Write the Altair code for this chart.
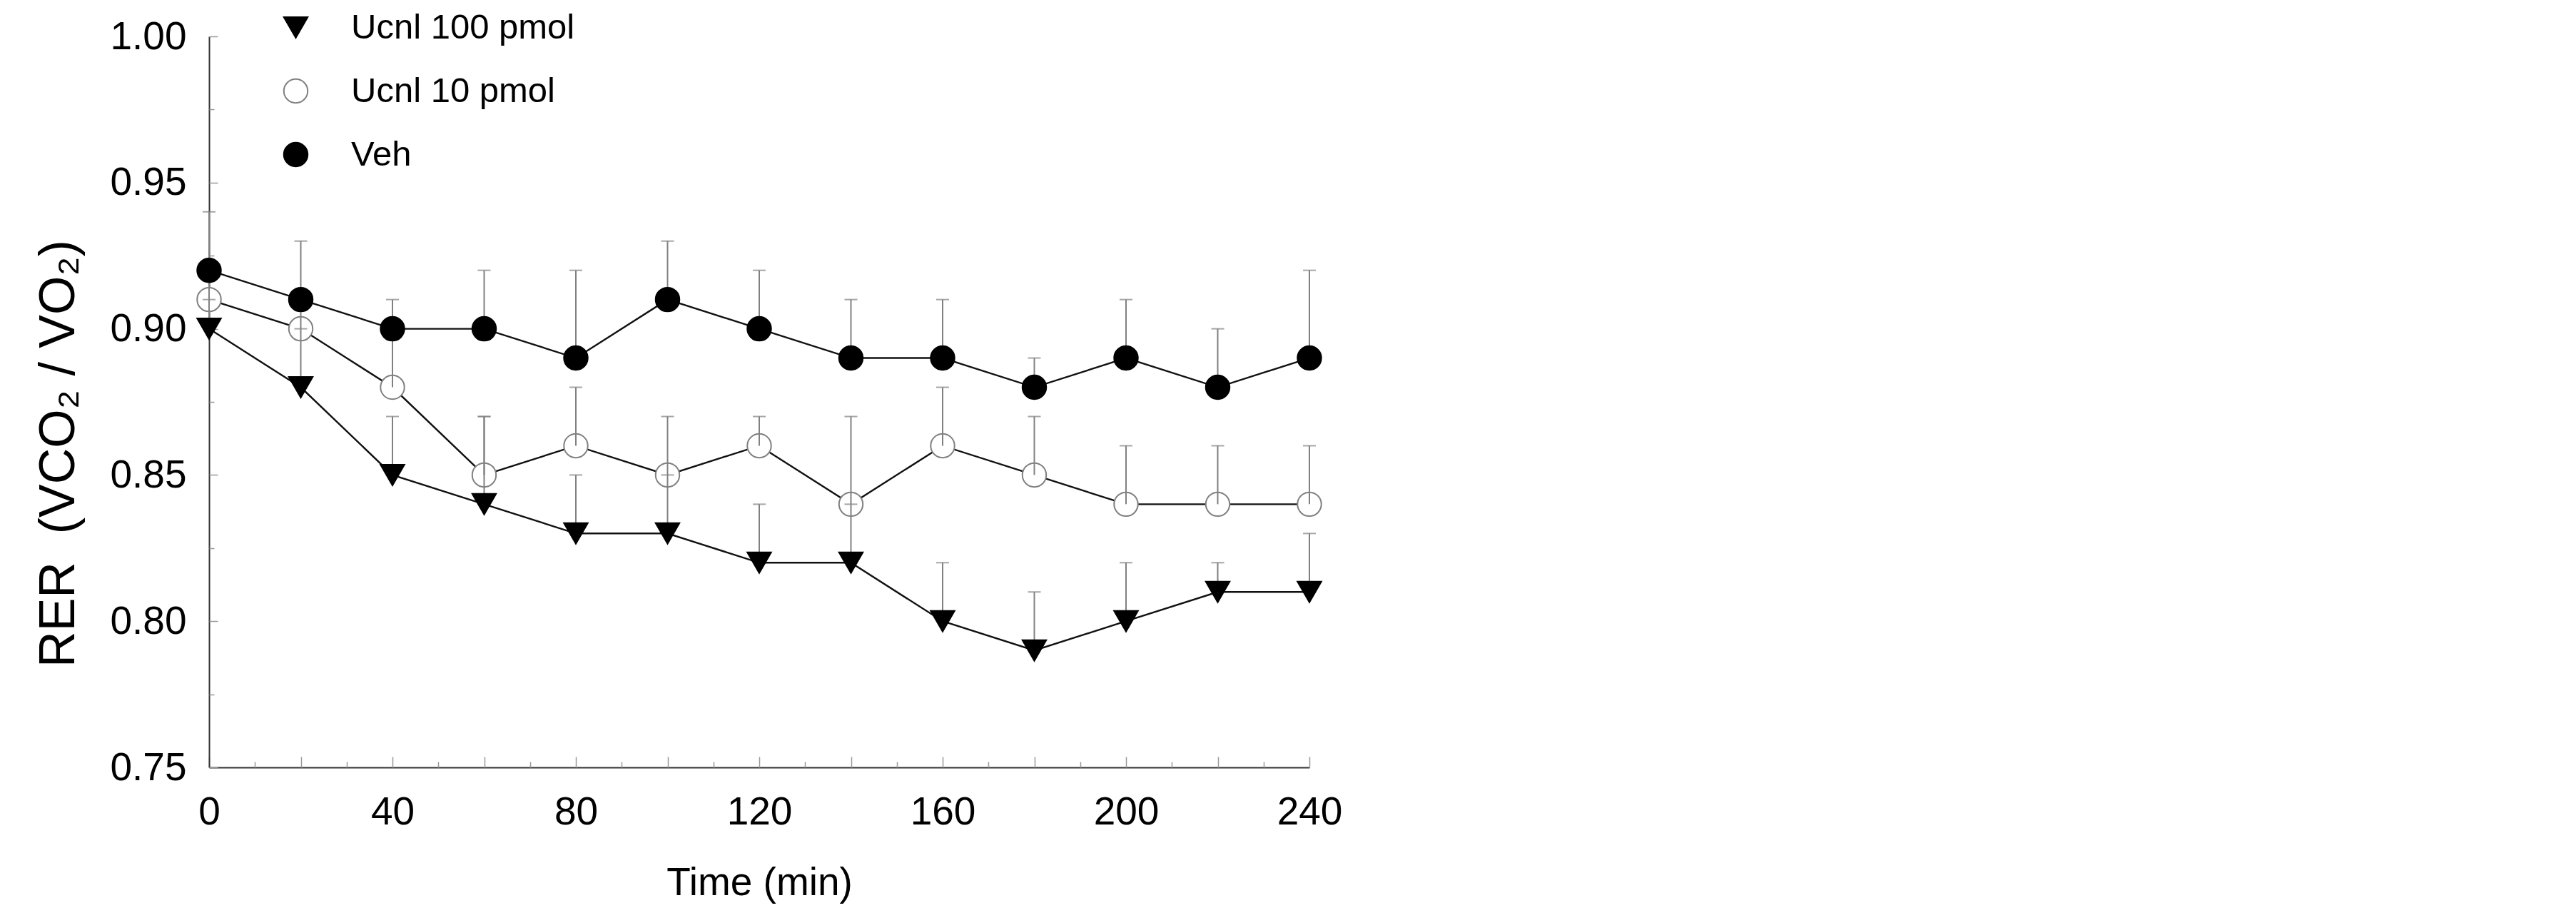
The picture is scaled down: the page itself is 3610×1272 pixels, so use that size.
import altair as alt
import pandas as pd

# ---- data ----
times = [0, 20, 40, 60, 80, 100, 120, 140, 160, 180, 200, 220, 240]
series_names = ["Ucnl 100 pmol", "Ucnl 10 pmol", "Veh"]

ucn100 = [0.90, 0.88, 0.85, 0.84, 0.83, 0.83, 0.82, 0.82, 0.80, 0.79, 0.80, 0.81, 0.81]
ucn100_up = [0.91, 0.90, 0.87, 0.87, 0.85, 0.85, 0.84, 0.84, 0.82, 0.81, 0.82, 0.82, 0.83]

ucn10 = [0.91, 0.90, 0.88, 0.85, 0.86, 0.85, 0.86, 0.84, 0.86, 0.85, 0.84, 0.84, 0.84]
ucn10_up = [0.92, 0.91, 0.90, 0.87, 0.88, 0.87, 0.87, 0.87, 0.88, 0.87, 0.86, 0.86, 0.86]

veh = [0.92, 0.91, 0.90, 0.90, 0.89, 0.91, 0.90, 0.89, 0.89, 0.88, 0.89, 0.88, 0.89]
veh_up = [0.94, 0.93, 0.91, 0.92, 0.92, 0.93, 0.92, 0.91, 0.91, 0.89, 0.91, 0.90, 0.92]

x_label_values = [0, 40, 80, 120, 160, 200, 240]
x_major_ticks = [0, 20, 40, 60, 80, 100, 120, 140, 160, 180, 200, 220, 240]
x_minor_ticks = [10, 30, 50, 70, 90, 110, 130, 150, 170, 190, 210, 230]
y_label_values = [0.75, 0.80, 0.85, 0.90, 0.95, 1.00]
y_minor_ticks = [0.775, 0.825, 0.875, 0.925, 0.975]

rows = []
for name, vals, ups in [("Ucnl 100 pmol", ucn100, ucn100_up),
                        ("Ucnl 10 pmol", ucn10, ucn10_up),
                        ("Veh", veh, veh_up)]:
    for t, v, u in zip(times, vals, ups):
        rows.append({"time": t, "series": name, "value": v, "upper": u})
df = pd.DataFrame(rows)

W, H = 1542, 1024
FONT = "Liberation Sans"
MSIZE = 1120

xs = alt.Scale(domain=[0, 240], nice=False, zero=False)
ys = alt.Scale(domain=[0.75, 1.00], nice=False, zero=False)

ax_x_main = alt.Axis(orient="bottom", values=x_label_values, ticks=False, grid=False,
                     domain=True, domainColor="#333333", domainWidth=2,
                     labelFont=FONT, labelFontSize=55, labelColor="black",
                     labelPadding=36, labelFlush=False, labelOverlap=False,
                     title="Time (min)", titleFont=FONT, titleFontSize=55,
                     titleFontWeight="normal", titleColor="black",
                     titleY=161, titleBaseline="middle")
ax_x_major = alt.Axis(orient="top", offset=-H, values=x_major_ticks, labels=False,
                      domain=False, grid=False, ticks=True, tickSize=15,
                      tickColor="#999999", tickWidth=1.5, title=None)
ax_x_minor = alt.Axis(orient="top", offset=-H, values=x_minor_ticks, labels=False,
                      domain=False, grid=False, ticks=True, tickSize=8,
                      tickColor="#999999", tickWidth=1.5, title=None)

ax_y_main = alt.Axis(orient="left", values=y_label_values, format=".2f", ticks=False,
                     grid=False, domain=True, domainColor="#333333", domainWidth=2,
                     labelFont=FONT, labelFontSize=55, labelColor="black",
                     labelPadding=32, labelOverlap=False,
                     title="RER\u00a0\u00a0(VCO₂ / VO₂)", titleFont=FONT, titleFontSize=70,
                     titleFontWeight="normal", titleColor="black",
                     titleX=-211, titleY=584, titleAlign="center",
                     titleBaseline="middle", titleAngle=270)
ax_y_major = alt.Axis(orient="right", offset=-W, values=y_label_values, labels=False,
                      domain=False, grid=False, ticks=True, tickSize=12,
                      tickColor="#999999", tickWidth=1.5, title=None)
ax_y_minor = alt.Axis(orient="right", offset=-W, values=y_minor_ticks, labels=False,
                      domain=False, grid=False, ticks=True, tickSize=7,
                      tickColor="#999999", tickWidth=1.5, title=None)

legend = alt.Legend(orient="none", legendX=97, legendY=-37, title=None,
                    labelFont=FONT, labelFontSize=49, labelColor="black",
                    symbolSize=MSIZE, symbolStrokeWidth=2, rowPadding=39,
                    labelOffset=53, padding=0, labelLimit=0)

shape_enc = alt.Shape("series:N", scale=alt.Scale(domain=series_names,
                      range=["triangle-down", "circle", "circle"]), legend=legend)
fill_enc = alt.Fill("series:N", scale=alt.Scale(domain=series_names,
                    range=["black", "white", "black"]), legend=legend)
stroke_enc = alt.Stroke("series:N", scale=alt.Scale(domain=series_names,
                        range=["black", "#808080", "black"]), legend=legend)

base = alt.Chart(df)

lines = base.mark_line(color="#111111", strokeWidth=2.4).encode(
    x=alt.X("time:Q", scale=xs, axis=ax_x_main),
    y=alt.Y("value:Q", scale=ys, axis=ax_y_main),
    detail="series:N",
)

open_pts = base.transform_filter(alt.datum.series == "Ucnl 10 pmol").mark_point(
    filled=True, size=MSIZE, strokeWidth=2, opacity=1).encode(
    x=alt.X("time:Q", scale=xs, axis=None),
    y=alt.Y("value:Q", scale=ys, axis=None),
    shape=shape_enc, fill=fill_enc, stroke=stroke_enc,
)

err_rules = base.mark_rule(color="#808080", strokeWidth=2).encode(
    x=alt.X("time:Q", scale=xs, axis=ax_x_major),
    y=alt.Y("value:Q", scale=ys, axis=ax_y_major),
    y2="upper:Q",
)

err_caps = base.mark_tick(color="#808080", orient="horizontal", size=18,
                          thickness=2).encode(
    x=alt.X("time:Q", scale=xs, axis=ax_x_minor),
    y=alt.Y("upper:Q", scale=ys, axis=ax_y_minor),
)

solid_pts = base.transform_filter(alt.datum.series != "Ucnl 10 pmol").mark_point(
    filled=True, size=MSIZE, strokeWidth=2, opacity=1).encode(
    x=alt.X("time:Q", scale=xs, axis=None),
    y=alt.Y("value:Q", scale=ys, axis=None),
    shape=shape_enc, fill=fill_enc, stroke=stroke_enc,
)

chart = alt.layer(lines, open_pts, err_rules, err_caps, solid_pts).resolve_axis(
    x="independent", y="independent"
).properties(
    width=W, height=H,
    autosize=alt.AutoSizeParams(type="none"),
    padding={"left": 285, "top": 43, "right": 120, "bottom": 196},
    background="white",
).configure_view(stroke=None)

chart.save("out.html", embed_options={"renderer": "svg", "actions": False})
